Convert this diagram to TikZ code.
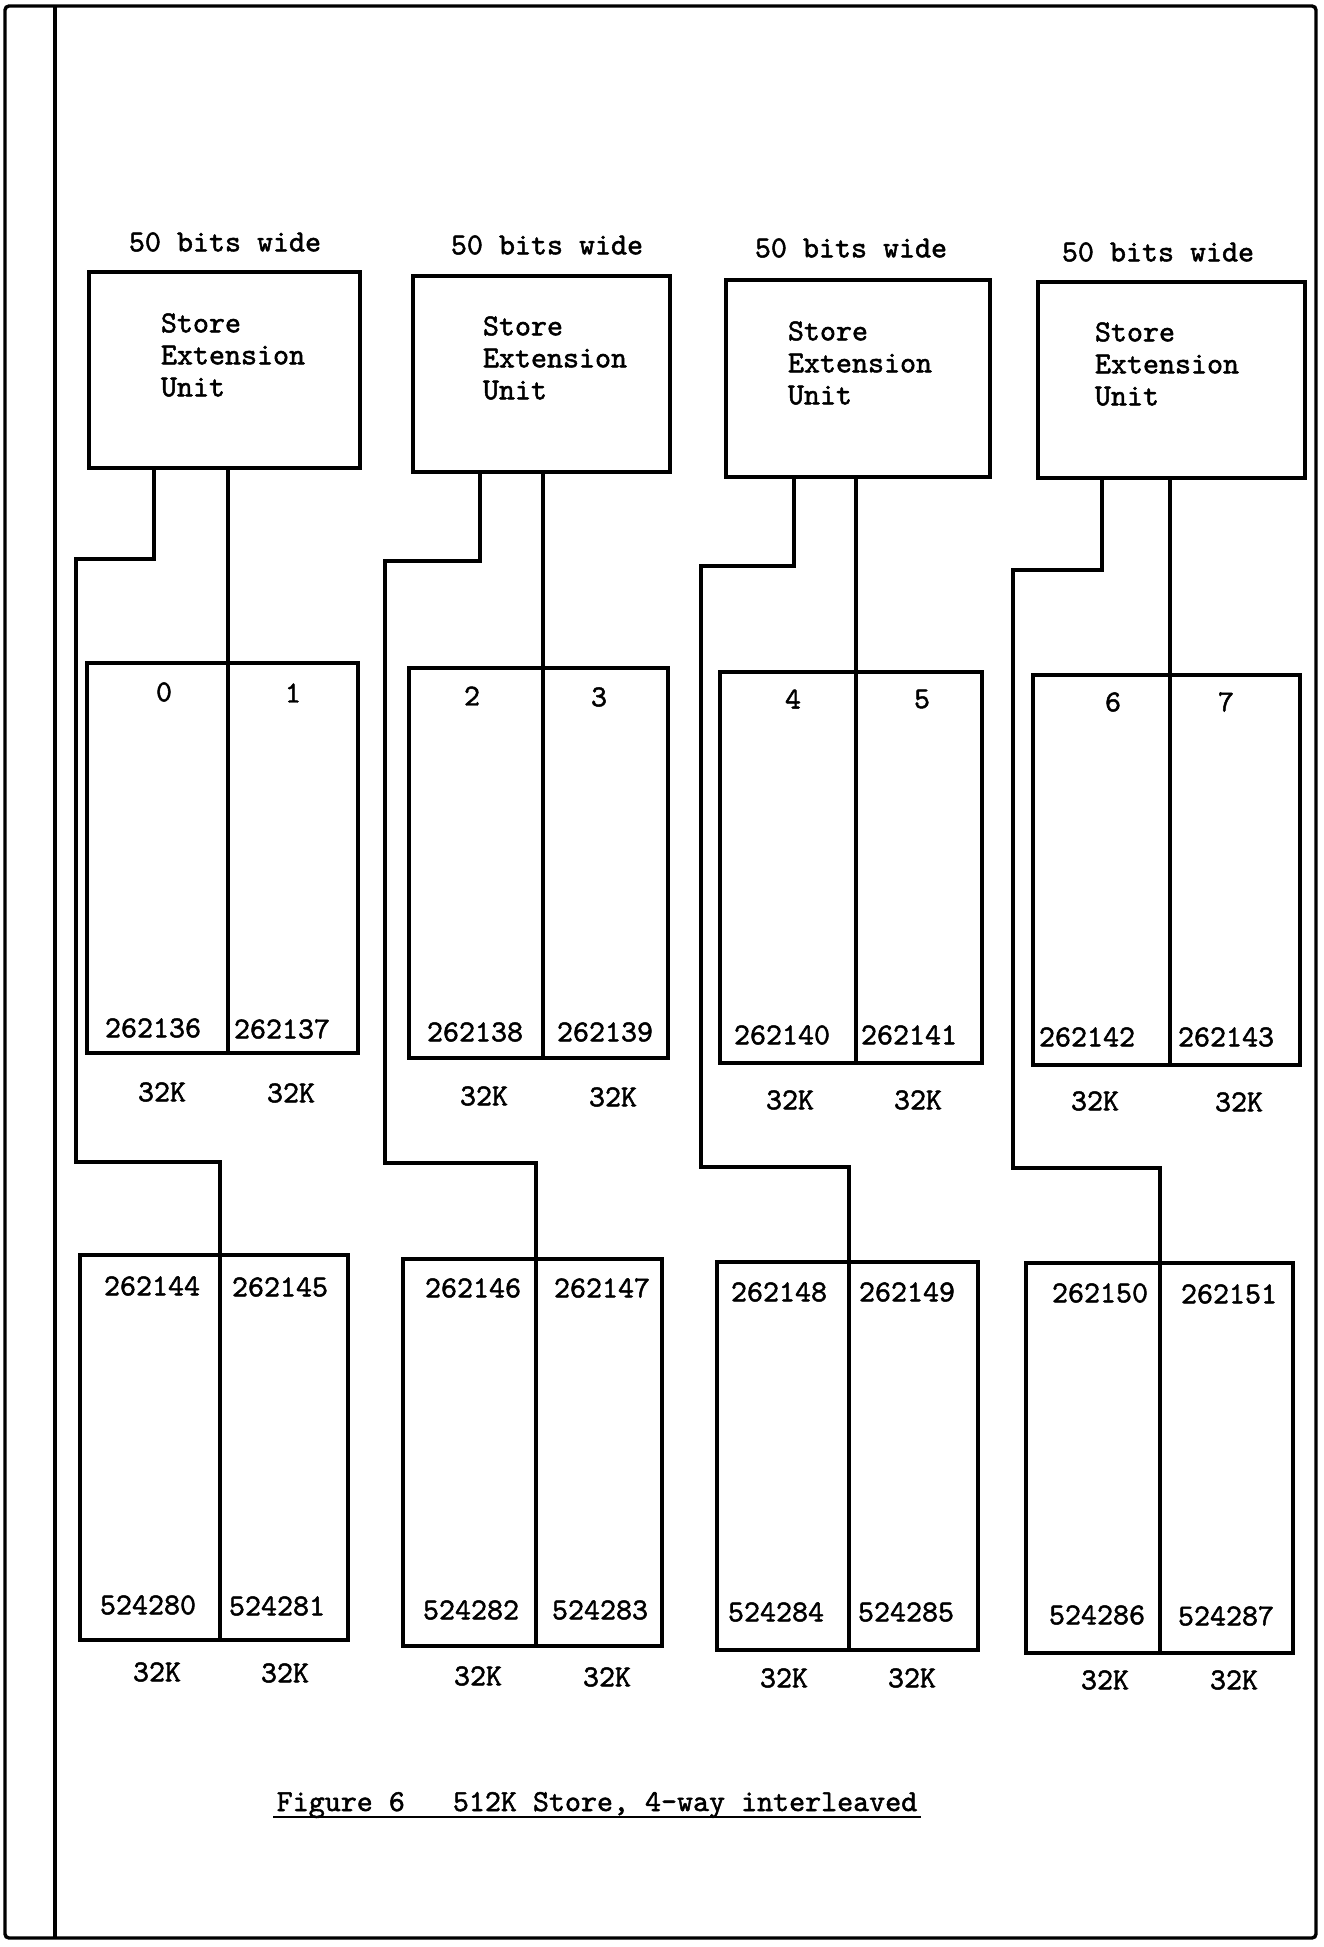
\documentclass[tikz,border=0pt]{standalone}
\usepackage{fontspec}
\newfontfamily\typefont{lmmono10-regular.otf}[BoldFont=lmmono10-regular.otf,BoldFeatures={FakeBold=1.6}]
\usetikzlibrary{positioning}

\begin{document}
\begin{tikzpicture}[x=1pt,y=-1pt,
  every node/.style={font=\fontsize{30.5}{32}\selectfont\typefont\bfseries},
  unitbox/.style={draw,line width=3.4pt,inner sep=0pt},
  wire/.style={line width=3.4pt}]
\useasboundingbox (0,0) rectangle (1323,1947);
% page frame
\draw[line width=3.4pt,rounded corners=4pt] (5,6) rectangle (1316,1938);
\draw[line width=3.4pt] (55,6) -- (55,1938);

% column 1
\node (w1) at (225,242) {50 bits wide};
\node[unitbox,minimum width=271pt,minimum height=196pt] (s1) at (224.5,370) {};
\node[align=left] (t1) at (233,355) {Store\\Extension\\Unit};
\node[unitbox,minimum width=271pt,minimum height=390pt] (u1) at (222.5,858) {};
\node[unitbox,minimum width=268pt,minimum height=385pt] (l1) at (214,1447.5) {};
\coordinate (r1) at (228,0); \coordinate (a1) at (154,559); \coordinate (b1) at (76,1162); \coordinate (c1) at (220,0);
\draw[wire] (s1.south -| r1) -- (u1.south -| r1);
\draw[wire] (s1.south -| a1) -- (a1) -| (b1) -| (c1 |- l1.north) -- (l1.south -| c1);
\node (m0) at (164,692) {0};
\node (m1) at (293,693) {1};
\node (ua0) at (153,1028) {262136};
\node (ua1) at (282,1029) {262137};
\node (uk0) at (162,1092) {32K};
\node (uk1) at (291,1093) {32K};
\node (la0) at (152,1286) {262144};
\node (la1) at (280,1287) {262145};
\node (lb0) at (148,1605) {524280};
\node (lb1) at (277,1606) {524281};
\node (lk0) at (157,1672) {32K};
\node (lk1) at (285,1673) {32K};

% column 2
\node (w2) at (547,245) {50 bits wide};
\node[unitbox,minimum width=257pt,minimum height=196pt] (s2) at (541.5,374) {};
\node[align=left] (t2) at (555,358) {Store\\Extension\\Unit};
\node[unitbox,minimum width=259pt,minimum height=390pt] (u2) at (538.5,863) {};
\node[unitbox,minimum width=259pt,minimum height=387pt] (l2) at (532.5,1452.5) {};
\coordinate (r2) at (543,0); \coordinate (a2) at (480,561); \coordinate (b2) at (385,1163); \coordinate (c2) at (536,0);
\draw[wire] (s2.south -| r2) -- (u2.south -| r2);
\draw[wire] (s2.south -| a2) -- (a2) -| (b2) -| (c2 |- l2.north) -- (l2.south -| c2);
\node (m2) at (472,696) {2};
\node (m3) at (599,697) {3};
\node (ua2) at (475,1032) {262138};
\node (ua3) at (605,1032) {262139};
\node (uk2) at (484,1096) {32K};
\node (uk3) at (613,1097) {32K};
\node (la2) at (473,1288) {262146};
\node (la3) at (602,1288) {262147};
\node (lb2) at (471,1610) {524282};
\node (lb3) at (600,1610) {524283};
\node (lk2) at (478,1676) {32K};
\node (lk3) at (607,1677) {32K};

% column 3
\node (w3) at (851,248) {50 bits wide};
\node[unitbox,minimum width=264pt,minimum height=197pt] (s3) at (858,378.5) {};
\node[align=left] (t3) at (860,363) {Store\\Extension\\Unit};
\node[unitbox,minimum width=262pt,minimum height=391pt] (u3) at (851,867.5) {};
\node[unitbox,minimum width=261pt,minimum height=388pt] (l3) at (847.5,1456) {};
\coordinate (r3) at (856,0); \coordinate (a3) at (794,566); \coordinate (b3) at (701,1167); \coordinate (c3) at (849,0);
\draw[wire] (s3.south -| r3) -- (u3.south -| r3);
\draw[wire] (s3.south -| a3) -- (a3) -| (b3) -| (c3 |- l3.north) -- (l3.south -| c3);
\node (m4) at (793,699) {4};
\node (m5) at (922,699) {5};
\node (ua4) at (782,1035) {262140};
\node (ua5) at (909,1035) {262141};
\node (uk4) at (790,1100) {32K};
\node (uk5) at (918,1100) {32K};
\node (la4) at (779,1292) {262148};
\node (la5) at (907,1292) {262149};
\node (lb4) at (776,1612) {524284};
\node (lb5) at (906,1612) {524285};
\node (lk4) at (784,1678) {32K};
\node (lk5) at (912,1678) {32K};

% column 4
\node (w4) at (1158,252) {50 bits wide};
\node[unitbox,minimum width=267pt,minimum height=196pt] (s4) at (1171.5,380) {};
\node[align=left] (t4) at (1167,364) {Store\\Extension\\Unit};
\node[unitbox,minimum width=267pt,minimum height=390pt] (u4) at (1166.5,870) {};
\node[unitbox,minimum width=267pt,minimum height=390pt] (l4) at (1159.5,1458) {};
\coordinate (r4) at (1170,0); \coordinate (a4) at (1102,570); \coordinate (b4) at (1013,1168); \coordinate (c4) at (1160,0);
\draw[wire] (s4.south -| r4) -- (u4.south -| r4);
\draw[wire] (s4.south -| a4) -- (a4) -| (b4) -| (c4 |- l4.north) -- (l4.south -| c4);
\node (m6) at (1113,702) {6};
\node (m7) at (1226,702) {7};
\node (ua6) at (1087,1037) {262142};
\node (ua7) at (1226,1037) {262143};
\node (uk6) at (1095,1101) {32K};
\node (uk7) at (1239,1102) {32K};
\node (la6) at (1100,1293) {262150};
\node (la7) at (1229,1294) {262151};
\node (lb6) at (1097,1615) {524286};
\node (lb7) at (1226,1616) {524287};
\node (lk6) at (1105,1680) {32K};
\node (lk7) at (1234,1680) {32K};

% caption
\node[anchor=base] (cap) at (597,1811) {Figure 6\ \ \ 512K Store, 4-way interleaved};
\draw[line width=2.5pt] ([yshift=-6pt]cap.base west) -- ([yshift=-6pt]cap.base east);
\end{tikzpicture}
\end{document}
